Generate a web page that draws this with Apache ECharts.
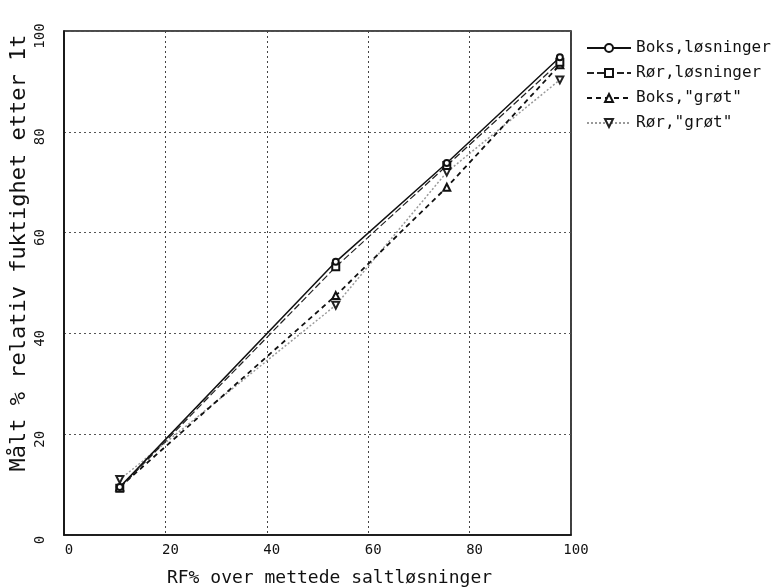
<!DOCTYPE html>
<html>
<head>
<meta charset="utf-8">
<script src="https://cdn.jsdelivr.net/npm/echarts@6/dist/echarts.min.js"></script>
<style>
html, body { margin: 0; padding: 0; background: #fff; }
#chart { width: 773px; height: 587px; }
</style>
</head>
<body>
<div id="chart"></div>
<script>
// RF over saturated salt solutions (x) vs measured RH after 1 h (y)
const rfSalt = [11.0, 53.6, 75.5, 97.8];
const boksLosninger = [9.5, 54.2, 73.8, 94.8];
const rorLosninger = [9.3, 53.2, 73.3, 93.8];
const boksGrot = [9.5, 47.5, 69.0, 93.3];
const rorGrot = [11.0, 45.6, 72.0, 90.3];

const seriesNames = ['Boks,løsninger', 'Rør,løsninger', 'Boks,"grøt"', 'Rør,"grøt"'];
const xTicks = [0, 20, 40, 60, 80, 100];
const yTicks = [0, 20, 40, 60, 80, 100];

const FONT = 'DejaVu Sans Mono';

function pairs(ys) {
  return rfSalt.map((x, i) => [x, ys[i]]);
}

const chart = echarts.init(document.getElementById('chart'), null, { renderer: 'canvas' });

chart.setOption({
  animation: false,
  backgroundColor: '#ffffff',
  textStyle: { fontFamily: FONT, color: '#111' },
  grid: {
    left: 64, right: 202, top: 31, bottom: 52,
    outerBoundsMode: 'none',
    containLabel: false,
    show: true, borderColor: '#111', borderWidth: 1.6, backgroundColor: 'transparent'
  },
  legend: {
    orient: 'vertical',
    left: 581, top: 35,
    itemGap: 9,
    itemWidth: 44, itemHeight: 10,
    itemTextGap: 5,
    data: seriesNames,
    textStyle: { fontFamily: FONT, fontSize: 16, color: '#111' }
  },
  xAxis: {
    type: 'value',
    min: xTicks[0], max: xTicks[xTicks.length - 1], interval: 20,
    name: 'RF% over mettede saltløsninger',
    nameLocation: 'middle', nameGap: 34,
    nameTextStyle: { fontFamily: FONT, fontSize: 18, color: '#111', padding: [0, 0, 0, 24] },
    axisLine: { show: true, lineStyle: { color: '#111', width: 1.6 } },
    axisTick: { show: false },
    axisLabel: { fontFamily: FONT, fontSize: 14, color: '#111', margin: 8, padding: [0, 0, 0, 10],
      formatter: v => xTicks.includes(v) ? String(v) : '' },
    splitLine: { show: true, lineStyle: { color: '#444', type: [2, 3], width: 1 } }
  },
  yAxis: {
    type: 'value',
    min: yTicks[0], max: yTicks[yTicks.length - 1], interval: 20,
    name: 'Målt % relativ fuktighet etter 1t',
    nameLocation: 'middle', nameGap: 34, nameRotate: 90,
    nameMoveOverlap: false,
    nameTextStyle: { fontFamily: FONT, fontSize: 22, color: '#111', padding: [0, 0, 0, 60] },
    axisLine: { show: true, lineStyle: { color: '#111', width: 1.6 } },
    axisTick: { show: false },
    axisLabel: { fontFamily: FONT, fontSize: 14, color: '#111', rotate: 90, margin: 17, padding: [0, 10, 0, 0],
      formatter: v => yTicks.includes(v) ? String(v) : '' },
    splitLine: { show: true, lineStyle: { color: '#555', type: [2, 3], width: 1 } }
  },
  series: [
    {
      name: seriesNames[0], type: 'line', data: pairs(boksLosninger),
      symbol: 'emptyCircle', symbolSize: 6,
      itemStyle: { color: '#111', borderWidth: 1.2 },
      lineStyle: { color: '#111', width: 1.5, type: 'solid' }, z: 5
    },
    {
      name: seriesNames[1], type: 'line', data: pairs(rorLosninger),
      symbol: 'emptyRect', symbolSize: 7,
      itemStyle: { color: '#111', borderWidth: 1.2 },
      lineStyle: { color: '#222', width: 1.2, type: [7, 3] }, z: 4
    },
    {
      name: seriesNames[2], type: 'line', data: pairs(boksGrot),
      symbol: 'emptyTriangle', symbolSize: 7,
      itemStyle: { color: '#111', borderWidth: 1.2 },
      lineStyle: { color: '#111', width: 1.8, type: [5, 4] }, z: 3
    },
    {
      name: seriesNames[3], type: 'line', data: pairs(rorGrot),
      symbol: 'emptyTriangle', symbolRotate: 180, symbolSize: 7,
      itemStyle: { color: '#222', borderWidth: 1.2 },
      lineStyle: { color: '#999', width: 1.5, type: [2, 2] }, z: 2
    }
  ]
});
</script>
</body>
</html>
